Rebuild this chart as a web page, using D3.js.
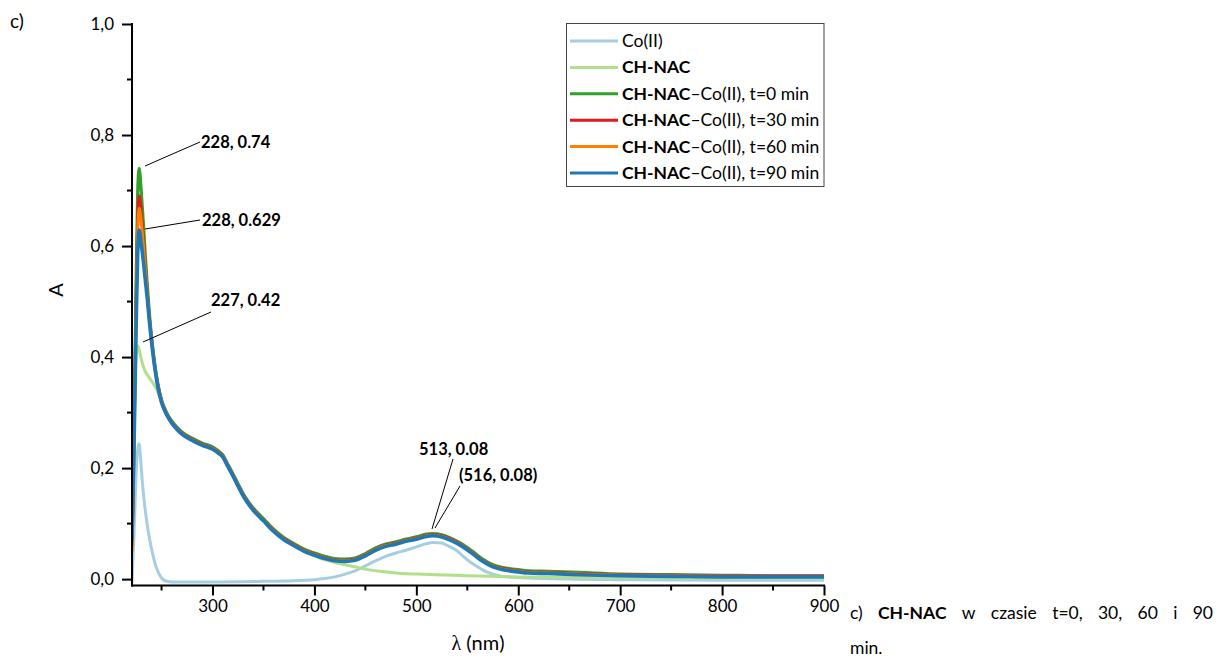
<!DOCTYPE html>
<html>
<head>
<meta charset="utf-8">
<script src="https://cdnjs.cloudflare.com/ajax/libs/d3/7.8.5/d3.min.js"></script>
<style>
  html, body { margin: 0; padding: 0; background: #fff; }
  svg { display: block; font-family: Lato, "Open Sans", sans-serif; }
</style>
</head>
<body>
<svg id="chart" width="1220" height="660"></svg>
<script>
// ---------------- DATA ----------------
const seriesNames = ["Co(II)", "CH-NAC", "CH-NAC–Co(II), t=0 min", "CH-NAC–Co(II), t=30 min", "CH-NAC–Co(II), t=60 min", "CH-NAC–Co(II), t=90 min"];
const seriesColors = ["#a6cee3", "#b2df8a", "#33a02c", "#e31a1c", "#ff7f00", "#1f78b4"];

const coWavelengths = [221,223,225,227,228,229.5,231,233,235,237.5,240,242.5,245,248,251,255,260,300,350,380,400,410,420,430,440,450,460,470,480,490,500,510,517,525,530,540,546,555,563,570,579,590,600,650,700,800,900];
const coValues      = [-0.005,0.08,0.19,0.238,0.244,0.215,0.178,0.14,0.11,0.08,0.056,0.036,0.02,0.008,0.0,-0.004,-0.005,-0.005,-0.004,-0.003,-0.001,0.001,0.004,0.009,0.015,0.024,0.033,0.041,0.047,0.052,0.058,0.064,0.066,0.065,0.061,0.051,0.041,0.028,0.019,0.012,0.007,0.004,0.003,0.0,-0.001,-0.002,-0.002];

const nacWavelengths = [221,223,225,227,229,231,233,236,239,242,245,248,250,255,260,270,280,290,300,310,320,330,340,350,360,370,380,390,400,410,420,430,440,450,465,480,500,550,600,700,800,900];
const nacValues      = [0.10,0.30,0.40,0.42,0.405,0.39,0.378,0.368,0.36,0.352,0.342,0.33,0.318,0.296,0.281,0.261,0.25,0.241,0.234,0.22,0.186,0.15,0.124,0.105,0.087,0.072,0.06,0.05,0.042,0.035,0.03,0.026,0.022,0.018,0.014,0.011,0.009,0.006,0.004,0.003,0.002,0.002];

const mixWavelengths = [221,223,225,226.5,228,230,232,234,236,238,240,243,246,250,255,260,265,270,280,290,300,305,310,315,320,325,330,335,340,345,350,355,360,370,380,390,400,410,420,430,440,450,460,470,480,490,500,510,516,525,535,545,555,565,575,585,595,610,630,660,700,750,800,850,900];
const t0Values  = [0.06,0.26,0.53,0.69,0.74, 0.70,0.645,0.585,0.53,0.48,0.44, 0.392,0.356,0.323, 0.30,0.285,0.274,0.265, 0.254,0.245,0.238, 0.232,0.224,0.207,0.19,0.172,0.154,0.14,0.128,0.118,0.109,0.099,0.09, 0.075,0.064,0.054,0.047,0.041,0.037,0.036,0.038,0.046,0.056,0.063,0.067,0.072,0.076,0.081, 0.082,0.080,0.073,0.063,0.050,0.036,0.026,0.021,0.018, 0.015,0.014,0.012,0.009,0.008,0.007,0.006,0.006];
const t30Values = [0.06,0.25,0.50,0.64,0.69, 0.66,0.615,0.565,0.515,0.472,0.435, 0.389,0.353,0.321, 0.298,0.283,0.272,0.263, 0.252,0.243,0.236, 0.230,0.222,0.205,0.188,0.170,0.152,0.138,0.126,0.116,0.107,0.097,0.088, 0.073,0.062,0.052,0.045,0.039,0.035,0.034,0.036,0.044,0.054,0.061,0.065,0.070,0.074,0.079, 0.080,0.078,0.071,0.061,0.048,0.034,0.024,0.019,0.016, 0.013,0.012,0.010,0.008,0.007,0.006,0.006,0.006];
const t60Values = [0.05,0.24,0.48,0.62,0.668, 0.645,0.605,0.56,0.512,0.47,0.433, 0.388,0.352,0.320, 0.297,0.282,0.271,0.262, 0.251,0.242,0.235, 0.229,0.221,0.204,0.187,0.169,0.151,0.137,0.125,0.115,0.106,0.096,0.087, 0.072,0.061,0.051,0.044,0.038,0.034,0.033,0.035,0.043,0.053,0.060,0.064,0.069,0.073,0.078, 0.079,0.077,0.070,0.060,0.047,0.033,0.023,0.018,0.015, 0.012,0.011,0.009,0.007,0.006,0.005,0.005,0.005];
const t90Values = [0.07,0.24,0.45,0.58,0.629, 0.605,0.575,0.54,0.505,0.465,0.43, 0.385,0.35,0.318, 0.296,0.281,0.27,0.261, 0.25,0.241,0.234, 0.228,0.22,0.203,0.186,0.168,0.15,0.136,0.124,0.114,0.105,0.095,0.086, 0.071,0.06,0.05,0.043,0.037,0.033,0.032,0.034,0.042,0.052,0.059,0.063,0.068,0.072,0.077, 0.078,0.076,0.069,0.059,0.046,0.032,0.022,0.017,0.014, 0.011,0.010,0.008,0.006,0.005,0.004,0.004,0.004];

const xTicksMajor = [300,400,500,600,700,800,900];
const xTicksMinor = [250,350,450,550,650,750,850];
const yTicksMajor = [0,0.2,0.4,0.6,0.8,1.0];
const yTicksMinor = [0.1,0.3,0.5,0.7,0.9];

const annotationTexts = ["228, 0.74", "228, 0.629", "227, 0.42", "513, 0.08", "(516, 0.08)"];

// ---------------- LAYOUT ----------------
const svg = d3.select("#chart");
const plot = {left: 132, right: 824, top: 24, bottom: 585.5};
const x = d3.scaleLinear().domain([221, 900]).range([plot.left, plot.right]);
const y = d3.scaleLinear().domain([-0.0115, 1.0]).range([plot.bottom, plot.top]);

const series = [
  {wl: coWavelengths, v: coValues, w: 3},
  {wl: nacWavelengths, v: nacValues, w: 3},
  {wl: mixWavelengths, v: t0Values, w: 3.2},
  {wl: mixWavelengths, v: t30Values, w: 3},
  {wl: mixWavelengths, v: t60Values, w: 3},
  {wl: mixWavelengths, v: t90Values, w: 3.6}
];

const line = d3.line().x(d => x(d[0])).y(d => y(d[1])).curve(d3.curveMonotoneX);

svg.append("clipPath").attr("id", "clip").append("rect")
  .attr("x", plot.left).attr("y", plot.top - 5).attr("width", plot.right - plot.left).attr("height", plot.bottom - plot.top + 5);

const g = svg.append("g").attr("clip-path", "url(#clip)");
series.forEach((s, i) => {
  g.append("path")
    .datum(s.wl.map((w, k) => [w, s.v[k]]))
    .attr("fill", "none")
    .attr("stroke", seriesColors[i])
    .attr("stroke-width", s.w)
    .attr("stroke-linejoin", "round")
    .attr("d", line);
});

// ---------------- AXES ----------------
const fmt = d => d3.format(".1f")(d).replace(".", ",");
const xAxis = d3.axisBottom(x).tickValues(xTicksMajor).tickSize(10).tickSizeOuter(0).tickPadding(4).tickFormat(d3.format("d"));
const xg = svg.append("g").attr("transform", `translate(0,${plot.bottom})`).call(xAxis);
xg.select(".domain").attr("stroke", "#000").attr("stroke-width", 2).attr("d", `M${plot.left - 1},0H${plot.right + 1}`);
xg.selectAll(".tick line").attr("stroke-width", 2);
xg.selectAll(".tick text").attr("font-size", 17).attr("fill", "#000").attr("font-family", "Lato, sans-serif");
svg.append("g").attr("transform", `translate(0,${plot.bottom})`)
  .selectAll("line").data(xTicksMinor).join("line")
  .attr("x1", d => x(d)).attr("x2", d => x(d)).attr("y1", 0).attr("y2", 5)
  .attr("stroke", "#000").attr("stroke-width", 2);

const yAxis = d3.axisLeft(y).tickValues(yTicksMajor).tickSize(10).tickSizeOuter(0).tickPadding(8).tickFormat(fmt);
const yg = svg.append("g").attr("transform", `translate(${plot.left},0)`).call(yAxis);
yg.select(".domain").attr("stroke", "#000").attr("stroke-width", 2).attr("d", `M0,${plot.top - 1}V${plot.bottom + 1}`);
yg.selectAll(".tick line").attr("stroke-width", 2);
yg.selectAll(".tick text").attr("font-size", 17).attr("fill", "#000").attr("font-family", "Lato, sans-serif");
svg.append("g").attr("transform", `translate(${plot.left},0)`)
  .selectAll("line").data(yTicksMinor).join("line")
  .attr("x1", 0).attr("x2", -5).attr("y1", d => y(d)).attr("y2", d => y(d))
  .attr("stroke", "#000").attr("stroke-width", 2);

// axis titles
svg.append("text").attr("transform", "translate(63,290) rotate(-90)")
  .attr("text-anchor", "middle").attr("font-size", 20).text("A");
const xl = svg.append("text").attr("x", 478).attr("y", 650).attr("text-anchor", "middle").attr("font-size", 20);
xl.append("tspan").attr("font-family", "'Liberation Serif', 'DejaVu Serif', serif").text("λ");
xl.append("tspan").text(" (nm)");

// panel label
svg.append("text").attr("x", 10).attr("y", 28).attr("font-size", 19).text("c)");

// ---------------- ANNOTATIONS ----------------
const annPos = [
  {tx: 201, ty: 148, x1: 145, y1: 166, x2: 200, y2: 142},
  {tx: 202, ty: 226, x1: 145, y1: 229, x2: 200, y2: 220},
  {tx: 211, ty: 306, x1: 143, y1: 342, x2: 211, y2: 312},
  {tx: 419, ty: 455, x1: 432, y1: 529, x2: 453, y2: 459},
  {tx: 459, ty: 481, x1: 435, y1: 528, x2: 460, y2: 486}
];
annotationTexts.forEach((t, i) => {
  const p = annPos[i];
  svg.append("line").attr("x1", p.x1).attr("y1", p.y1).attr("x2", p.x2).attr("y2", p.y2)
    .attr("stroke", "#000").attr("stroke-width", 1);
  svg.append("text").attr("x", p.tx).attr("y", p.ty).attr("font-size", 16.5).attr("font-weight", "bold").text(t);
});

// ---------------- LEGEND ----------------
const lg = svg.append("g");
lg.append("rect").attr("x", 566.5).attr("y", 23.5).attr("width", 257.5).attr("height", 163)
  .attr("fill", "#fff").attr("stroke", "#444").attr("stroke-width", 1);
seriesNames.forEach((name, i) => {
  const yy = 41 + i * 26.4;
  lg.append("line").attr("x1", 570).attr("x2", 618).attr("y1", yy).attr("y2", yy)
    .attr("stroke", seriesColors[i]).attr("stroke-width", 3);
  const t = lg.append("text").attr("x", 622).attr("y", yy + 6).attr("font-size", 17.5);
  if (name.startsWith("CH-NAC")) {
    t.append("tspan").attr("font-weight", "bold").text("CH-NAC");
    t.append("tspan").text(name.slice(6));
  } else {
    t.text(name);
  }
});

// ---------------- CAPTION ----------------
const capWords = [["c)", false], ["CH-NAC", true], ["w", false], ["czasie", false], ["t=0,", false], ["30,", false], ["60", false], ["i", false], ["90", false]];
const capX0 = 850, capX1 = 1213, capY = 619;
const tmp = capWords.map(([w, b]) => svg.append("text").attr("y", capY).attr("font-size", 17.5).attr("font-weight", b ? "bold" : "normal").text(w));
const widths = tmp.map(t => t.node().getComputedTextLength());
const gap = (capX1 - capX0 - d3.sum(widths)) / (capWords.length - 1);
let cx = capX0;
tmp.forEach((t, i) => { t.attr("x", cx); cx += widths[i] + gap; });
svg.append("text").attr("x", capX0).attr("y", 654).attr("font-size", 17.5).text("min.");
</script>
</body>
</html>
